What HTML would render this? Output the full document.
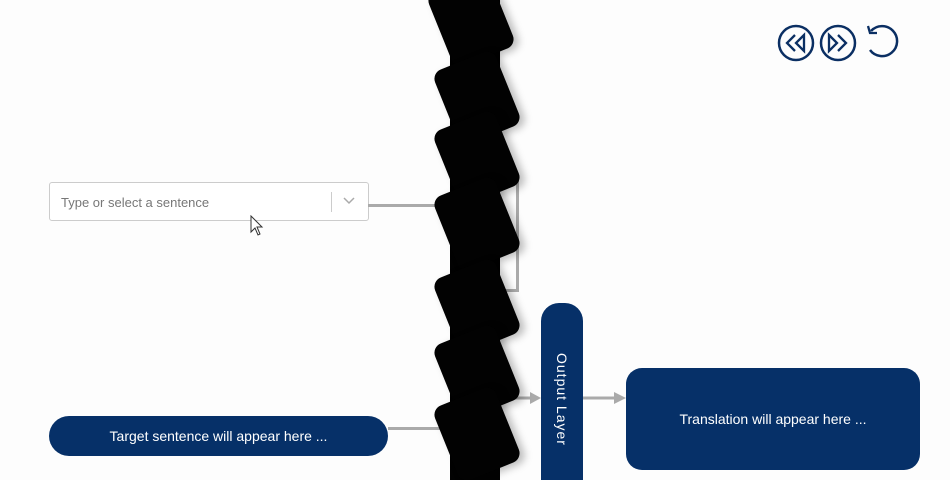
<!DOCTYPE html>
<html><head><meta charset="utf-8"><style>
html,body{margin:0;width:950px;height:480px;overflow:hidden}
body{background:#fdfdfd;position:relative;font-family:"Liberation Sans",sans-serif}
.abs{position:absolute}
.card{position:absolute;width:66px;height:80px;background:#020202;border-radius:10px;transform:rotate(-22deg);box-shadow:4px 4px 8px rgba(0,0,0,.25)}
</style></head><body>
<div class="abs" style="left:49px;top:182px;width:318px;height:37px;border:1px solid #ccc;border-radius:3px;background:#fff">
 <span class="abs" style="left:11px;top:12px;font-size:13px;color:#777">Type or select a sentence</span>
 <div class="abs" style="left:281px;top:9px;width:1px;height:20px;background:#ccc"></div>
 <svg class="abs" style="left:293px;top:14px" width="12" height="8"><path d="M1 1 L6 6 L11 1" fill="none" stroke="#aaa" stroke-width="1.5"/></svg>
</div>
<div class="abs" style="left:368px;top:204px;width:90px;height:3px;background:#aaa"></div>
<div class="abs" style="left:480px;top:175px;width:33px;height:111px;border:3px solid #aaa"></div>
<div class="abs" style="left:388px;top:427px;width:70px;height:3px;background:#aaa"></div>
<div class="abs" style="left:49px;top:416px;width:339px;height:40px;background:#063068;border-radius:20px;color:#fff;font-size:14px;text-align:center;line-height:40px">Target sentence will appear here ...</div>
<svg class="abs" style="left:0;top:0" width="950" height="480">
 <line x1="500" y1="398" x2="532" y2="398" stroke="#aaa" stroke-width="3"/><polygon points="530,392 541,398 530,404" fill="#aaa"/>
 <line x1="583" y1="398" x2="616" y2="398" stroke="#aaa" stroke-width="3"/><polygon points="614,392 626,398 614,404" fill="#aaa"/>
 <g fill="none" stroke="#0b2f63" stroke-width="2.5">
  <circle cx="796" cy="43" r="17"/><circle cx="838" cy="43" r="17"/>
  <path d="M871 31 A15 15 0 1 1 870 50"/>
 </g>
 <g fill="none" stroke="#0b2f63" stroke-width="2.3">
  <path d="M795 35 L787 43 L795 51"/><path d="M804 35 L796 43 L804 51 Z"/>
  <path d="M838 35 L846 43 L838 51"/><path d="M829 35 L837 43 L829 51 Z"/>
  <path d="M868 26 L870 33 L877 33"/>
 </g>
</svg>
<div class="abs" style="left:541px;top:303px;width:42px;height:200px;background:#063068;border-radius:18px"><span class="abs" style="left:29px;top:50px;transform:rotate(90deg);transform-origin:0 0;white-space:nowrap;color:#fff;font-size:14px;letter-spacing:1px">Output Layer</span></div>
<div class="abs" style="left:626px;top:368px;width:294px;height:102px;background:#063068;border-radius:16px;color:#fff;font-size:14px;text-align:center;line-height:102px">Translation will appear here ...</div>
<div class="abs" style="left:450px;top:0;width:50px;height:480px;background:#020202"></div>
<div class="card" style="left:438px;top:-20px"></div>
<div class="card" style="left:444px;top:58px"></div>
<div class="card" style="left:444px;top:118px"></div>
<div class="card" style="left:444px;top:184px"></div>
<div class="card" style="left:444px;top:266px"></div>
<div class="card" style="left:444px;top:332px"></div>
<div class="card" style="left:444px;top:394px"></div>
<svg class="abs" style="left:250px;top:215px" width="16" height="24"><path d="M1 1 L1 17 L5 13 L8 20 L10 19 L7 12 L12 12 Z" fill="#fff" stroke="#333"/></svg>
</body></html>
